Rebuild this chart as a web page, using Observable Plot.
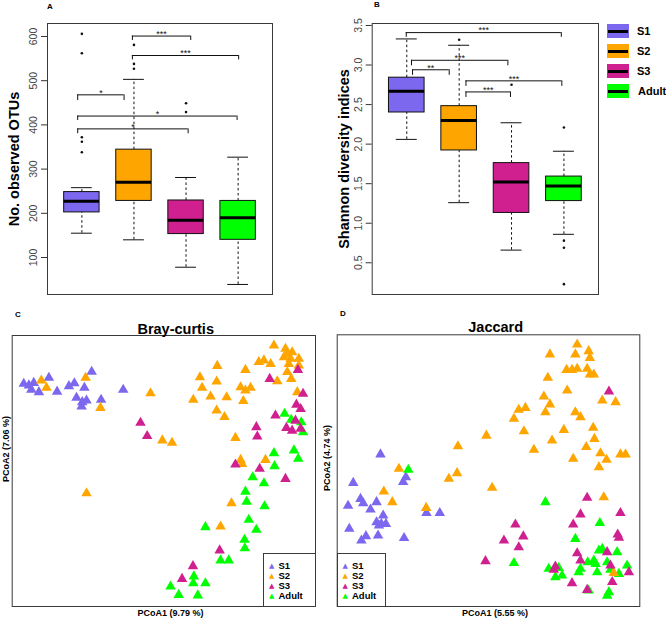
<!DOCTYPE html>
<html><head><meta charset="utf-8">
<script src="https://cdn.jsdelivr.net/npm/d3@7"></script>
<script src="https://cdn.jsdelivr.net/npm/@observablehq/plot@0.6"></script>
<style>
body{margin:0;background:#fff;font-family:"Liberation Sans",Arial,Helvetica,sans-serif;}
#fig{position:relative;width:666px;height:618px;overflow:hidden;background:#fff;}
.abs{position:absolute;}
.lbl{position:absolute;font-weight:bold;white-space:nowrap;line-height:1;transform:translate(-50%,-50%);color:#000;}
.rot{transform:translate(-50%,-50%) rotate(-90deg);}
.legrow{position:absolute;white-space:nowrap;line-height:1;font-weight:bold;transform:translateY(-50%);}
</style></head><body><div id="fig"></div>
<script>
const FONT = "Liberation Sans, Arial, Helvetica, sans-serif";
const groups = ["S1", "S2", "S3", "Adult"];
const groupColors = ["#7B68EE", "#FFA500", "#D02090", "#00FF00"];

// ---- Panel A: No. observed OTUs ----
const otuLow = [155, 140, 78, 39];
const otuQ1 = [202, 228, 153, 140];
const otuMedian = [227, 270, 184, 190];
const otuQ3 = [248, 344, 229, 228];
const otuHigh = [258, 503, 281, 327];
const otuOutlierGroup = ["S1", "S1", "S1", "S1", "S1", "S2", "S2", "S2", "S3", "S3"];
const otuOutlierValue = [606, 562, 372, 362, 338, 581, 538, 527, 449, 429];
const otuTicks = [100, 200, 300, 400, 500, 600];
const otuSigFrom = [1.97, 1.97, 0.92, 0.92, 0.92];
const otuSigTo = [3.09, 4.01, 1.81, 3.98, 3.04];
const otuSigY = [601, 557, 468, 420, 391];
const otuSigEnd = [591, 547, 455, 410, 380];
const otuSigLabel = ["***", "***", "*", "*", "*"];

// ---- Panel B: Shannon diversity indices ----
const shLow = [2.06, 1.26, 0.66, 0.86];
const shQ1 = [2.40, 1.92, 1.13, 1.28];
const shMedian = [2.67, 2.30, 1.52, 1.47];
const shQ3 = [2.84, 2.48, 1.76, 1.59];
const shHigh = [3.33, 3.25, 2.27, 1.91];
const shOutlierGroup = ["S2", "S3", "Adult", "Adult", "Adult", "Adult"];
const shOutlierValue = [3.32, 2.75, 2.21, 0.78, 0.69, 0.23];
const shTicks = [0.5, 1.0, 1.5, 2.0, 2.5, 3.0, 3.5];
const shSigFrom = [0.99, 1.09, 1.11, 2.13, 2.13];
const shSigTo = [3.95, 2.93, 1.81, 3.96, 2.98];
const shSigY = [3.41, 3.06, 2.94, 2.80, 2.66];
const shSigEnd = [3.35, 2.99, 2.87, 2.73, 2.59];
const shSigLabel = ["***", "***", "**", "***", "***"];

// ---- Panel C: Bray-curtis PCoA (relative positions, 0-100) ----
const brayS1 = [[3.8,82.2],[5.5,81.6],[7.1,82.5],[6.3,80.0],[8.8,79.1],[12.1,84.4],[14.8,79.3],[18.7,81.3],[20.5,82.4],[23.8,80.7],[26.2,86.6],[21.2,77.0],[23.1,75.4],[24.5,76.0],[29.3,76.3],[22.9,73.8],[36.6,80.0]];
const brayS2 = [[9.6,83.4],[11.3,80.7],[24.2,84.4],[29.1,73.3],[45.6,78.7],[49.5,61.3],[52.7,60.4],[24.5,41.8],[67.6,88.8],[61.9,84.6],[67.4,83.0],[62.6,80.7],[59.7,76.3],[65.4,77.5],[70.7,77.2],[67.4,72.3],[70.0,69.9],[76.9,87.3],[75.3,80.9],[78.6,80.7],[76.9,79.7],[76.2,75.8],[73.6,62.2],[75.3,54.1],[75.8,52.6],[83.5,54.1],[72.3,38.1],[68.7,29.5],[86.3,96.3],[90.1,95.1],[90.7,93.2],[92.3,93.8],[89.6,92.0],[91.8,91.4],[94.5,91.4],[91.2,89.5],[83.0,90.8],[81.3,90.2],[85.2,89.5],[94.5,88.9],[90.7,86.5],[87.4,83.1],[92.0,84.0],[94.0,79.1]];
const brayS3 = [[42.3,67.8],[44.5,62.9],[94.2,87.3],[84.9,84.0],[95.9,78.5],[93.7,74.5],[95.1,72.9],[86.8,70.5],[80.5,66.2],[80.8,62.7],[90.4,65.9],[92.3,64.9],[95.1,65.6],[93.4,68.6],[73.6,52.4],[81.6,50.8],[90.1,47.1],[68.4,20.7],[59.6,14.9],[56.0,10.2]];
const brayAdult = [[89.8,71.1],[92.0,68.9],[95.3,68.0],[95.9,64.3],[92.9,57.6],[94.3,54.5],[86.3,56.6],[86.5,51.8],[79.3,47.7],[83.0,45.5],[76.9,42.4],[77.3,38.7],[83.2,37.0],[78.0,32.0],[80.5,28.3],[76.6,24.6],[76.7,21.5],[68.7,17.0],[71.4,17.0],[63.7,29.3],[52.2,7.4],[54.9,4.3],[59.9,11.1],[59.7,8.6],[61.2,4.1],[63.7,8.6]];

// ---- Panel D: Jaccard PCoA (relative positions, 0-100) ----
const jacS1 = [[14.3,56.0],[5.3,45.5],[7.7,39.6],[8.6,38.0],[3.6,37.1],[11.0,35.7],[13.0,38.4],[15.2,33.5],[13.0,31.0],[14.6,30.4],[16.1,30.4],[13.8,29.8],[4.0,28.6],[9.5,25.9],[8.0,24.3],[13.5,26.1],[22.1,25.2],[21.8,45.8],[22.7,47.6],[29.5,34.4],[33.9,34.4]];
const jacS2 = [[20.4,50.7],[15.4,42.3],[18.2,38.4],[29.4,36.3],[36.9,47.0],[39.6,49.1],[39.9,59.0],[49.3,62.9],[51.2,43.7],[88.1,40.2],[91.4,12.3],[79.3,96.4],[70.3,92.8],[78.7,92.8],[83.1,94.0],[83.5,91.5],[75.8,87.1],[77.6,87.1],[79.3,87.5],[82.6,87.5],[83.5,85.4],[84.8,85.4],[69.6,84.2],[76.0,79.5],[87.6,75.8],[92.0,75.2],[68.3,77.3],[70.3,74.4],[68.8,71.5],[60.0,72.4],[62.2,73.1],[58.4,69.1],[78.7,71.5],[80.4,69.7],[74.9,65.0],[84.6,65.8],[61.7,64.5],[71.0,61.1],[85.0,61.7],[82.3,58.7],[65.0,57.7],[87.0,56.4],[78.0,54.4],[89.0,54.0],[93.6,56.0],[95.3,56.0],[86.5,51.3]];
const jacS3 = [[89.8,79.1],[82.6,40.0],[80.4,33.9],[78.0,30.2],[93.6,34.4],[92.7,26.5],[58.9,30.2],[61.5,25.8],[55.1,24.3],[60.0,21.8],[49.0,16.7],[79.3,19.6],[80.4,16.9],[89.2,20.0],[90.3,15.1],[72.1,14.7],[71.6,13.5],[96.4,12.6],[90.9,9.0],[77.6,8.6],[82.6,6.1],[93.1,25.3]];
const jacAdult = [[23.5,50.3],[68.8,38.4],[86.8,30.7],[78.7,24.9],[58.4,16.0],[69.9,13.9],[73.2,14.2],[74.3,11.4],[72.1,10.8],[80.4,13.9],[79.8,12.6],[82.8,16.3],[84.8,16.9],[85.4,15.7],[86.5,20.6],[87.6,21.2],[92.5,20.0],[89.2,16.3],[90.3,13.5],[85.9,12.6],[95.8,15.1],[93.1,12.0],[89.8,5.3],[89.2,4.0],[83.1,5.9]];

const fig = document.getElementById("fig");

function place(el, left, top) {
  el.style.position = "absolute";
  el.style.left = left + "px";
  el.style.top = top + "px";
  fig.appendChild(el);
}
function label(text, x, y, size, rotated) {
  const d = document.createElement("div");
  d.className = "lbl" + (rotated ? " rot" : "");
  d.textContent = text;
  d.style.left = x + "px";
  d.style.top = y + "px";
  d.style.fontSize = size + "px";
  fig.appendChild(d);
}

function boxPlot(cfg) {
  const boxes = groups.map((g, i) => ({g, pos: i + 1, low: cfg.low[i], q1: cfg.q1[i], med: cfg.med[i], q3: cfg.q3[i], high: cfg.high[i]}));
  const outs = cfg.outG.map((g, i) => ({pos: groups.indexOf(g) + 1, v: cfg.outV[i]}));
  const sig = cfg.sigFrom.map((f, i) => ({from: f, to: cfg.sigTo[i], y: cfg.sigY[i], end: cfg.sigEnd[i], label: cfg.sigLabel[i]}));
  const hw = 0.34, cw = 0.2, ink = "#111";
  return Plot.plot({
    width: cfg.width, height: cfg.height,
    marginLeft: cfg.ml, marginRight: cfg.mr, marginTop: 23, marginBottom: 6,
    style: {fontFamily: FONT, background: "transparent", overflow: "visible"},
    x: {domain: [0.34, 4.66], axis: null},
    y: {domain: cfg.yDomain},
    color: {domain: groups, range: groupColors},
    marks: [
      Plot.axisY(cfg.ticks, {tickSize: 6, tickFormat: () => "", label: null, stroke: "#333"}),
      Plot.text(cfg.ticks, {y: d => d, text: cfg.fmt, frameAnchor: "left", textAnchor: "middle", dx: -14, rotate: -90, fontSize: 10.5, fill: "#444"}),
      Plot.text([cfg.yLabel], {text: d => d, frameAnchor: "left", textAnchor: "middle", dx: cfg.labelDx, rotate: -90, fontSize: 14.5, fontWeight: "bold", fill: "#000"}),
      Plot.ruleX(boxes, {x: "pos", y1: "q3", y2: "high", stroke: ink, strokeDasharray: "2.5,2.5"}),
      Plot.ruleX(boxes, {x: "pos", y1: "low", y2: "q1", stroke: ink, strokeDasharray: "2.5,2.5"}),
      Plot.ruleY(boxes, {y: "high", x1: d => d.pos - cw, x2: d => d.pos + cw, stroke: ink}),
      Plot.ruleY(boxes, {y: "low", x1: d => d.pos - cw, x2: d => d.pos + cw, stroke: ink}),
      Plot.rect(boxes, {x1: d => d.pos - hw, x2: d => d.pos + hw, y1: "q1", y2: "q3", fill: "g", stroke: ink, strokeWidth: 1}),
      Plot.ruleY(boxes, {y: "med", x1: d => d.pos - hw, x2: d => d.pos + hw, stroke: "#000", strokeWidth: 3}),
      Plot.dot(outs, {x: "pos", y: "v", r: 1.3, fill: ink, stroke: null}),
      Plot.ruleY(sig, {y: "y", x1: "from", x2: "to", stroke: ink}),
      Plot.ruleX(sig, {x: "from", y1: "end", y2: "y", stroke: ink}),
      Plot.ruleX(sig, {x: "to", y1: "end", y2: "y", stroke: ink}),
      Plot.text(sig, {x: d => (d.from + d.to) / 2, y: "y", text: "label", dy: -2, fontSize: 9, fill: ink}),
      Plot.frame({stroke: "#3a3a3a"})
    ]
  });
}

place(boxPlot({
  width: 290, height: 300, ml: 47, mr: 18,
  low: otuLow, q1: otuQ1, med: otuMedian, q3: otuQ3, high: otuHigh,
  outG: otuOutlierGroup, outV: otuOutlierValue, ticks: otuTicks, fmt: d => String(d),
  sigFrom: otuSigFrom, sigTo: otuSigTo, sigY: otuSigY, sigEnd: otuSigEnd, sigLabel: otuSigLabel,
  yDomain: [16.3, 629.4], yLabel: "No. observed OTUs", labelDx: -33
}), 0, 0);

place(boxPlot({
  width: 300, height: 300, ml: 71.7, mr: 2,
  low: shLow, q1: shQ1, med: shMedian, q3: shQ3, high: shHigh,
  outG: shOutlierGroup, outV: shOutlierValue, ticks: shTicks, fmt: d => d.toFixed(1),
  sigFrom: shSigFrom, sigTo: shSigTo, sigY: shSigY, sigEnd: shSigEnd, sigLabel: shSigLabel,
  yDomain: [0.099, 3.525], yLabel: "Shannon diversity indices", labelDx: -28
}), 300, 0);

// legend for boxplots
groups.forEach((g, i) => {
  const sw = document.createElement("div");
  sw.style.cssText = `position:absolute;left:607px;top:${24 + i * 20}px;width:22px;height:14px;background:${groupColors[i]};`;
  const ln = document.createElement("div");
  ln.style.cssText = `position:absolute;left:1px;right:1px;top:6px;height:2.5px;background:#000;`;
  sw.appendChild(ln);
  fig.appendChild(sw);
  const t = document.createElement("div");
  t.className = "legrow";
  t.style.cssText += `left:${g === "Adult" ? 638 : 637}px;top:${31 + i * 20}px;font-size:11px;`;
  t.textContent = g;
  fig.appendChild(t);
});

function toPoints(lists) {
  const out = [];
  lists.forEach(([g, arr]) => arr.forEach(([x, y]) => out.push({group: g, x, y})));
  return out;
}

function scatter(cfg) {
  return Plot.plot({
    width: cfg.width, height: cfg.height,
    marginLeft: cfg.ml, marginRight: cfg.mr, marginTop: cfg.mt, marginBottom: 12,
    style: {fontFamily: FONT, background: "transparent", overflow: "visible"},
    x: {domain: [0, 100], axis: null},
    y: {domain: [0, 100], axis: null},
    color: {domain: groups, range: groupColors},
    marks: [
      Plot.dot(cfg.points, {x: "x", y: "y", fill: "group", symbol: "triangle", r: 3.9, stroke: null}),
      Plot.frame({stroke: "#3a3a3a"})
    ]
  });
}

place(scatter({
  width: 330, height: 318, ml: 11.7, mr: 15, mt: 35,
  points: toPoints([["S1", brayS1], ["Adult", brayAdult], ["S2", brayS2], ["S3", brayS3]])
}), 0, 300);

place(scatter({
  width: 336, height: 318, ml: 6.7, mr: 26.7, mt: 34.3,
  points: toPoints([["S1", jacS1], ["Adult", jacAdult], ["S2", jacS2], ["S3", jacS3]])
}), 330, 300);

function scatterLegend(left, top, width, height) {
  const box = document.createElement("div");
  box.style.cssText = `position:absolute;left:${left}px;top:${top}px;width:${width}px;height:${height}px;border:1px solid #3a3a3a;background:#fff;box-sizing:border-box;`;
  groups.forEach((g, i) => {
    const tri = document.createElement("div");
    tri.className = "legrow";
    tri.style.cssText += `left:5px;top:${11.5 + i * 10.3}px;font-size:7px;color:${groupColors[i]};font-family:'DejaVu Sans',sans-serif;`;
    tri.textContent = "\u25B2";
    box.appendChild(tri);
    const t = document.createElement("div");
    t.className = "legrow";
    t.style.cssText += `left:14.5px;top:${11.5 + i * 10.3}px;font-size:9.5px;`;
    t.textContent = g;
    box.appendChild(t);
  });
  fig.appendChild(box);
}
scatterLegend(263, 553, 52.5, 53.5);
scatterLegend(336.5, 553, 49, 53.5);

// titles and labels
label("A", 50, 7, 8);
label("B", 377, 5, 8);
label("C", 18, 315, 8);
label("D", 343, 314, 8);
label("Bray-curtis", 175.7, 328.5, 14.5);
label("Jaccard", 495.7, 327, 14.5);
label("PCoA1 (9.79 %)", 170.5, 613, 9);
label("PCoA1 (5.55 %)", 495, 613, 9);
label("PCoA2 (7.06 %)", 5.5, 449, 9, true);
label("PCoA2 (4.74 %)", 327, 458, 9, true);
</script></body></html>
